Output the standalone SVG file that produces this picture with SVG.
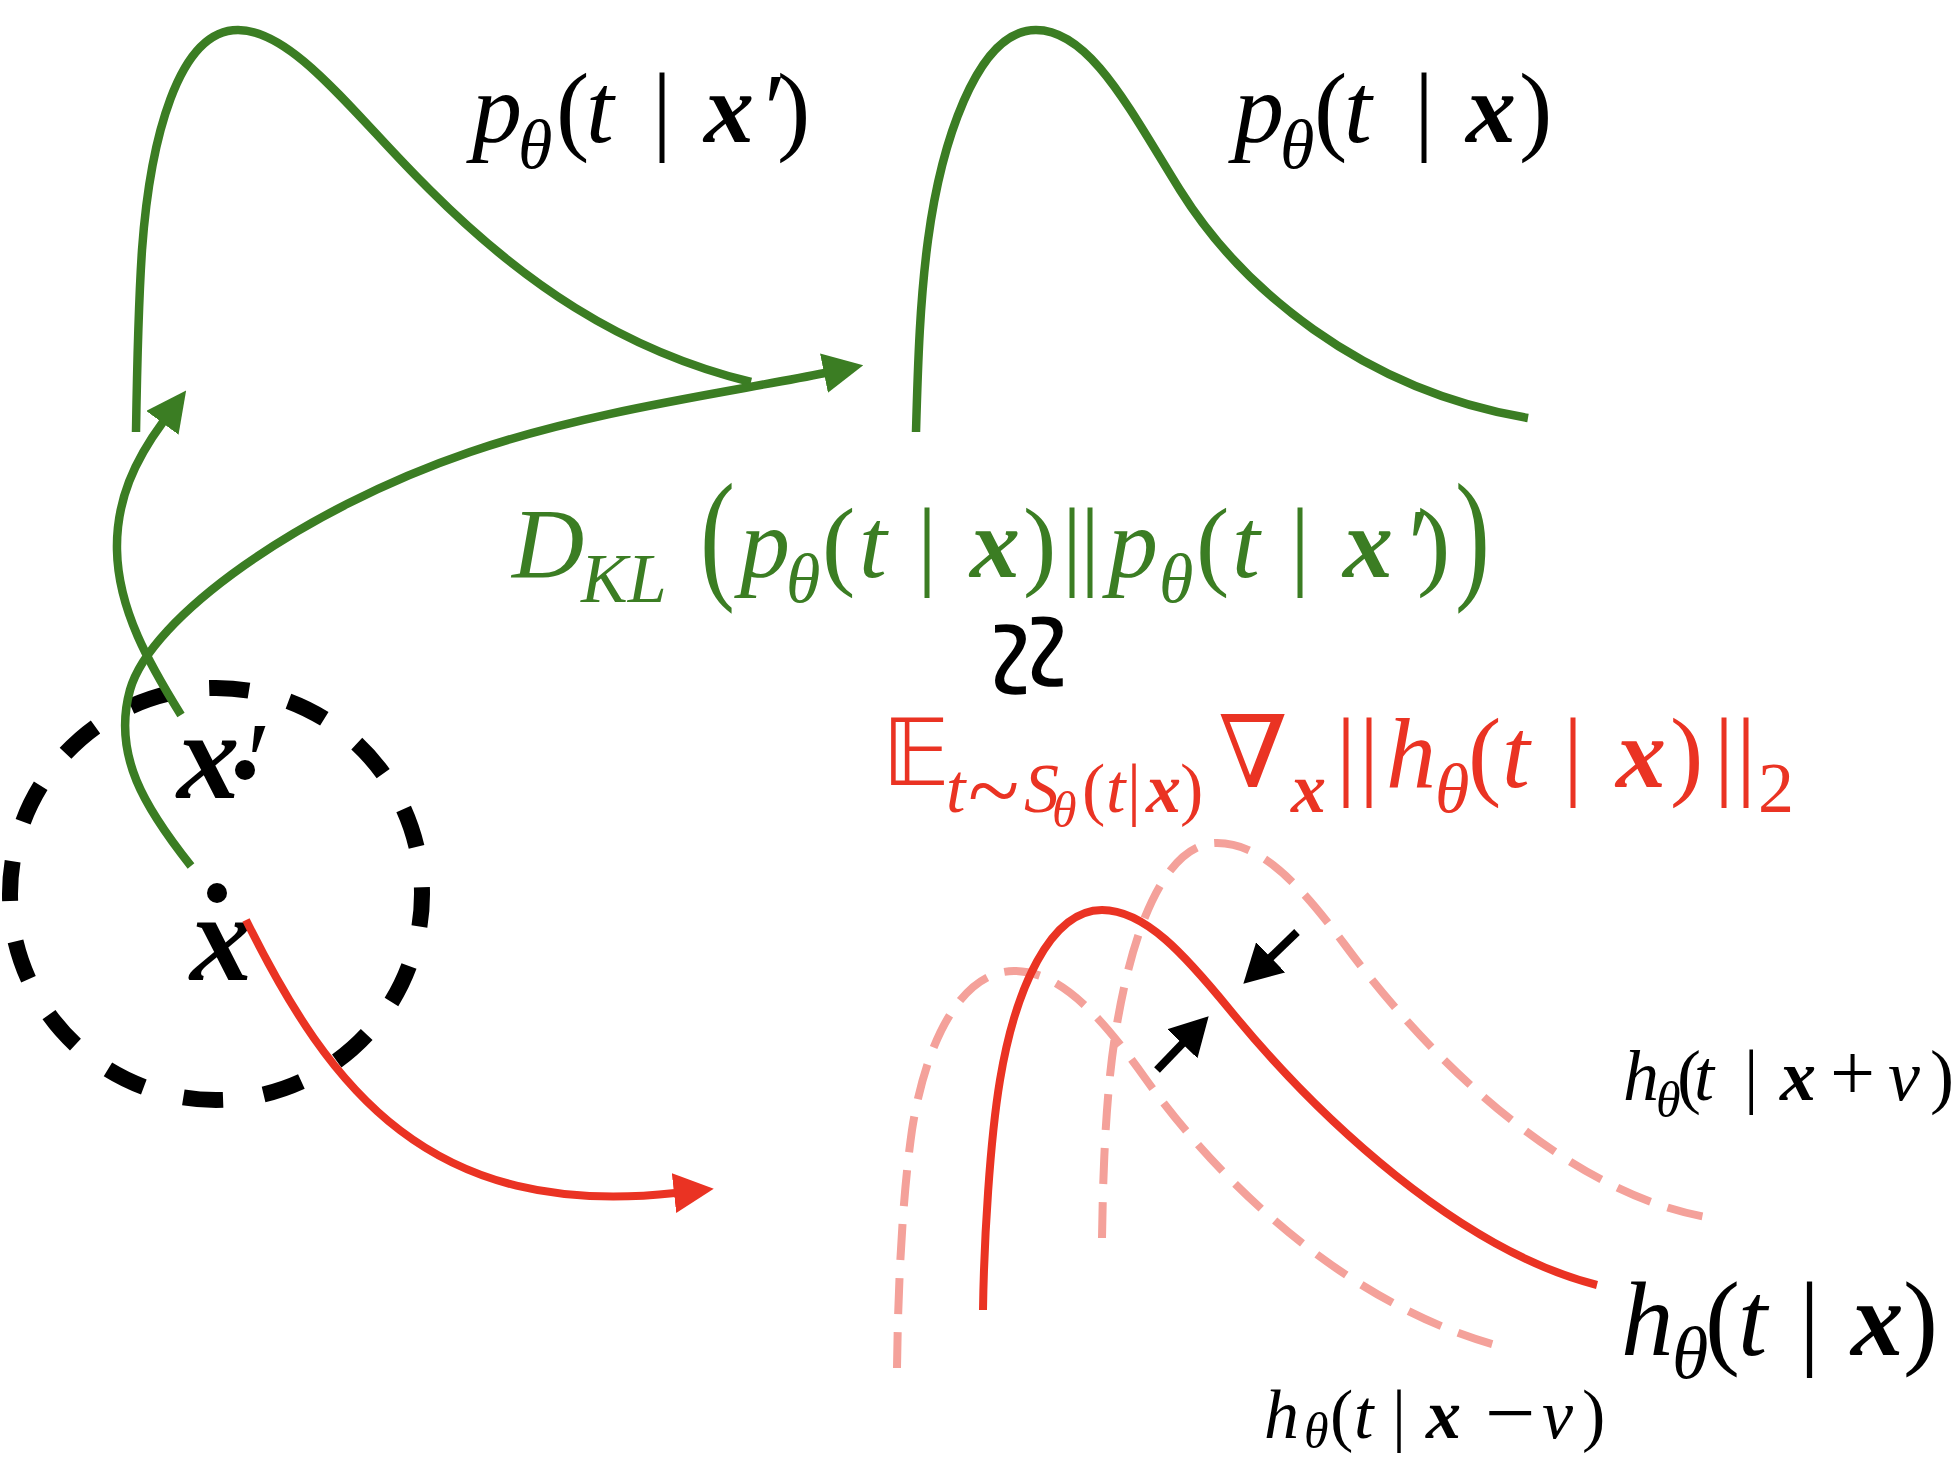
<svg xmlns="http://www.w3.org/2000/svg" width="1954" height="1458" viewBox="0 0 1954 1458">
<style>
.g{fill:none;stroke:#3B7D23;stroke-width:8.5}
.r{fill:none;stroke:#EA3323;stroke-width:8}
.rl{fill:none;stroke:#F4A19A;stroke-width:8;stroke-dasharray:36 18}
.k{fill:none;stroke:#000;stroke-width:8}
text{font-family:"Liberation Serif","Times New Roman",serif}
.i{font-style:italic}
.b{font-style:italic;font-weight:bold}
.blk{fill:#000}
.grn{fill:#3B7D23}
.red{fill:#EA3323}
</style>
<defs>
<marker id="ahG" viewBox="0 0 40 40" refX="1" refY="20" markerWidth="40" markerHeight="40" markerUnits="userSpaceOnUse" orient="auto"><path d="M0,0 L40,20 L0,40 Z" fill="#3B7D23"/></marker>
<marker id="ahR" viewBox="0 0 40 40" refX="1" refY="20" markerWidth="40" markerHeight="40" markerUnits="userSpaceOnUse" orient="auto"><path d="M0,0 L40,20 L0,40 Z" fill="#EA3323"/></marker>
<marker id="ahK" viewBox="0 0 38 42" refX="1" refY="21" markerWidth="38" markerHeight="42" markerUnits="userSpaceOnUse" orient="auto"><path d="M0,0 L38,21 L0,42 Z" fill="#000"/></marker>
</defs>
<rect width="1954" height="1458" fill="#fff"/>

<g id="neighborhood">
<circle cx="216" cy="894" r="206" fill="none" stroke="#000" stroke-width="16" stroke-dasharray="40 40.9" stroke-dashoffset="7.3"/>
<circle cx="245" cy="770" r="10" fill="#000"/>
<circle cx="217" cy="893" r="10" fill="#000"/>
<text class="blk" font-size="125"><tspan class="b" x="177" y="798">x</tspan><tspan x="240" y="798" font-size="110" class="i">′</tspan></text>
<text class="blk b" font-size="125" x="190" y="980">x</text>
</g>

<g id="p-x-prime">
<path class="g" d="M136,432 C137,370 138,310 142,250 C150,140 178,30 238,30 C295,30 358,120 430,190 C520,280 620,350 751,382"/>
<text class="blk" font-size="100"><tspan class="i" x="472" y="142">p</tspan><tspan class="i" x="518" y="168" font-size="70">θ</tspan><tspan x="556" y="142">(</tspan><tspan class="i" x="586" y="142">t</tspan><tspan x="652" y="142">|</tspan><tspan class="b" x="704" y="142">x</tspan><tspan class="i" x="758" y="142">′</tspan><tspan x="777" y="142">)</tspan></text>
</g>

<g id="p-x">
<path class="g" d="M916,432 C918,360 920,300 928,240 C940,150 975,30 1036,30 C1090,30 1130,110 1180,190 C1240,286 1360,390 1528,418"/>
<text class="blk" font-size="100"><tspan class="i" x="1234" y="142">p</tspan><tspan class="i" x="1280" y="168" font-size="70">θ</tspan><tspan x="1314" y="142">(</tspan><tspan class="i" x="1344" y="142">t</tspan><tspan x="1414" y="142">|</tspan><tspan class="b" x="1466" y="142">x</tspan><tspan x="1519" y="142">)</tspan></text>
</g>

<g id="kl-formula" class="grn">
<text font-size="100"><tspan class="i" x="512" y="577">D</tspan><tspan class="i" x="581" y="602" font-size="70">KL</tspan><tspan class="i" x="740" y="577">p</tspan><tspan class="i" x="786" y="602" font-size="70">θ</tspan><tspan x="822" y="577">(</tspan><tspan class="i" x="859" y="577">t</tspan><tspan x="917" y="577">|</tspan><tspan class="b" x="970" y="577">x</tspan><tspan x="1023" y="577">)</tspan><tspan x="1062" y="577">|</tspan><tspan x="1080" y="577">|</tspan><tspan class="i" x="1108" y="577">p</tspan><tspan class="i" x="1159" y="602" font-size="70">θ</tspan><tspan x="1196" y="577">(</tspan><tspan class="i" x="1232" y="577">t</tspan><tspan x="1290" y="577">|</tspan><tspan class="b" x="1343" y="577">x</tspan><tspan class="i" x="1402" y="577">′</tspan><tspan x="1417" y="577">)</tspan></text>
<text font-size="100" transform="translate(700,583) scale(1.05,1.45)">(</text>
<text font-size="100" transform="translate(1455,583) scale(1.05,1.45)">)</text>
</g>

<g id="approx">
<text class="blk" font-size="80" text-anchor="middle" transform="translate(1030,656) skewY(-12) rotate(90) scale(1.95,2.3)" x="0" y="27">≈</text>
</g>

<g id="expectation-formula" class="red">
<text font-size="93" x="882" y="785" style="font-family:'DejaVu Sans','Noto Sans',sans-serif">𝔼</text>
<text font-size="70"><tspan class="i" x="946" y="812">t</tspan><tspan class="i" x="1024" y="812">S</tspan><tspan class="i" x="1052" y="827" font-size="50">θ</tspan><tspan x="1082" y="812">(</tspan><tspan class="i" x="1106" y="812">t</tspan><tspan x="1127" y="812">|</tspan><tspan class="b" x="1146" y="812">x</tspan><tspan x="1180" y="812">)</tspan><tspan class="b" x="1291" y="812">x</tspan></text>
<text font-size="95" x="968" y="822">~</text>
<text font-size="100" x="1218" y="787" style="font-family:'Liberation Serif','DejaVu Serif',serif">∇</text>
<text font-size="100"><tspan x="1336" y="787">|</tspan><tspan x="1359" y="787">|</tspan><tspan class="i" x="1386" y="787">h</tspan><tspan class="i" x="1435" y="812" font-size="70">θ</tspan><tspan x="1468" y="787">(</tspan><tspan class="i" x="1502" y="787">t</tspan><tspan x="1563" y="787">|</tspan><tspan class="b" x="1616" y="787">x</tspan><tspan x="1670" y="787">)</tspan><tspan x="1714" y="787">|</tspan><tspan x="1736" y="787">|</tspan><tspan x="1758" y="812" font-size="72">2</tspan></text>
</g>

<g id="h-x-plus-nu">
<path class="rl" d="M1102,1238 C1103,1170 1106,1090 1116,1030 C1132,930 1165,843 1217,843 C1262,843 1300,885 1345,945 C1445,1080 1580,1195 1706,1217"/>
<text class="blk" font-size="72"><tspan class="i" x="1623" y="1100">h</tspan><tspan class="i" x="1656" y="1117" font-size="50">θ</tspan><tspan x="1677" y="1100">(</tspan><tspan class="i" x="1694" y="1100">t</tspan><tspan x="1744" y="1100">|</tspan><tspan class="b" x="1780" y="1100">x</tspan><tspan x="1830" y="1100" font-size="80">+</tspan><tspan class="i" x="1888" y="1100">ν</tspan><tspan x="1930" y="1100">)</tspan></text>
</g>

<g id="h-x-minus-nu">
<path class="rl" d="M897,1368 C898,1290 902,1200 912,1130 C926,1040 962,971 1014,971 C1060,971 1100,1015 1145,1078 C1230,1197 1360,1310 1503,1347"/>
<text class="blk" font-size="70"><tspan class="i" x="1264" y="1438">h</tspan><tspan class="i" x="1304" y="1448" font-size="50">θ</tspan><tspan x="1330" y="1438">(</tspan><tspan class="i" x="1354" y="1438">t</tspan><tspan x="1392" y="1438">|</tspan><tspan class="b" x="1426" y="1438">x</tspan><tspan x="1485" y="1443" font-size="90">−</tspan><tspan class="i" x="1542" y="1438">ν</tspan><tspan x="1582" y="1438">)</tspan></text>
</g>

<g id="h-x">
<path class="r" d="M983,1310 C984,1240 990,1140 1000,1080 C1015,990 1050,910 1102,910 C1145,910 1185,955 1230,1010 C1320,1120 1460,1250 1597,1285"/>
<text class="blk" font-size="105"><tspan class="i" x="1621" y="1355">h</tspan><tspan class="i" x="1672" y="1378" font-size="74">θ</tspan><tspan x="1705" y="1355">(</tspan><tspan class="i" x="1738" y="1355">t</tspan><tspan x="1799" y="1355">|</tspan><tspan class="b" x="1851" y="1355">x</tspan><tspan x="1903" y="1355">)</tspan></text>
</g>

<g id="connectors">
<path class="g" d="M191,866 C145,808 112,755 130,690 C150,618 300,510 470,452 C589,411 725,393 825,373" marker-end="url(#ahG)"/>
<path class="g" d="M181,715 C150,665 118,610 117,550 C116,500 135,460 163,422" marker-end="url(#ahG)"/>
<path class="r" d="M246,920 C330,1090 430,1220 675,1193" marker-end="url(#ahR)"/>
<path class="k" d="M1297,932 L1270,958" marker-end="url(#ahK)"/>
<path class="k" d="M1157,1070 L1183,1043" marker-end="url(#ahK)"/>
</g>
</svg>
